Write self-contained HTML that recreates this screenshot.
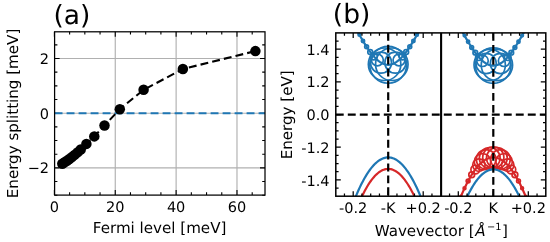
<!DOCTYPE html>
<html lang="en"><head><meta charset="utf-8"><title>Figure</title>
<style>html,body{margin:0;padding:0;background:#fff}body{width:550px;height:242px;overflow:hidden}svg text{fill:#000;text-rendering:geometricPrecision}</style></head>
<body>
<svg width="550" height="242" viewBox="0 0 550 242" font-family="DejaVu Sans, Liberation Sans, sans-serif" style="display:block">
<rect width="550" height="242" fill="#fff"/>
<g id="panel-a">
<line x1="115.26" x2="115.26" y1="31.8" y2="195.1" stroke="#b0b0b0" stroke-width="1.15"/>
<line x1="176.12" x2="176.12" y1="31.8" y2="195.1" stroke="#b0b0b0" stroke-width="1.15"/>
<line x1="236.98" x2="236.98" y1="31.8" y2="195.1" stroke="#b0b0b0" stroke-width="1.15"/>
<line x1="54.6" x2="265.0" y1="167.9" y2="167.9" stroke="#b0b0b0" stroke-width="1.15"/>
<line x1="54.6" x2="265.0" y1="113.2" y2="113.2" stroke="#b0b0b0" stroke-width="1.15"/>
<line x1="54.6" x2="265.0" y1="58.5" y2="58.5" stroke="#b0b0b0" stroke-width="1.15"/>
<path d="M54.4 195.1v-5.0M54.4 31.8v5.0M69.61 195.1v-2.8M69.61 31.8v2.8M84.83 195.1v-2.8M84.83 31.8v2.8M100.05 195.1v-2.8M100.05 31.8v2.8M115.26 195.1v-5.0M115.26 31.8v5.0M130.47 195.1v-2.8M130.47 31.8v2.8M145.69 195.1v-2.8M145.69 31.8v2.8M160.91 195.1v-2.8M160.91 31.8v2.8M176.12 195.1v-5.0M176.12 31.8v5.0M191.34 195.1v-2.8M191.34 31.8v2.8M206.55 195.1v-2.8M206.55 31.8v2.8M221.77 195.1v-2.8M221.77 31.8v2.8M236.98 195.1v-5.0M236.98 31.8v5.0M252.2 195.1v-2.8M252.2 31.8v2.8M54.6 195.25h2.8M265.0 195.25h-2.8M54.6 181.57h2.8M265.0 181.57h-2.8M54.6 167.9h5.0M265.0 167.9h-5.0M54.6 154.23h2.8M265.0 154.23h-2.8M54.6 140.55h2.8M265.0 140.55h-2.8M54.6 126.88h2.8M265.0 126.88h-2.8M54.6 113.2h5.0M265.0 113.2h-5.0M54.6 99.53h2.8M265.0 99.53h-2.8M54.6 85.85h2.8M265.0 85.85h-2.8M54.6 72.17h2.8M265.0 72.17h-2.8M54.6 58.5h5.0M265.0 58.5h-5.0M54.6 44.83h2.8M265.0 44.83h-2.8" stroke="#000" stroke-width="1.1" fill="none"/>
<line x1="54.6" x2="265.0" y1="113.2" y2="113.2" stroke="#1f77b4" stroke-width="2.1" stroke-dasharray="7.9 4.1"/>
<clipPath id="ca"><rect x="54.6" y="31.8" width="210.4" height="163.3"/></clipPath>
<g clip-path="url(#ca)">
<polyline fill="none" stroke="#000" stroke-width="2.1" stroke-dasharray="7.9 4.1" stroke-dashoffset="-4.8" points="62.3,163.7 64.6,162.3 67,160.7 69.4,159 71.9,157.1 74.6,154.9 77.5,152.4 80.7,149.5 86.4,143.9 94.3,136.4 104.5,125.5 119.8,109.2 143.6,89.8 182.9,69 255.4,51.1"/>
<circle cx="62.3" cy="163.7" r="5.25" fill="#000"/>
<circle cx="64.6" cy="162.3" r="5.25" fill="#000"/>
<circle cx="67" cy="160.7" r="5.25" fill="#000"/>
<circle cx="69.4" cy="159" r="5.25" fill="#000"/>
<circle cx="71.9" cy="157.1" r="5.25" fill="#000"/>
<circle cx="74.6" cy="154.9" r="5.25" fill="#000"/>
<circle cx="77.5" cy="152.4" r="5.25" fill="#000"/>
<circle cx="80.7" cy="149.5" r="5.25" fill="#000"/>
<circle cx="86.4" cy="143.9" r="5.25" fill="#000"/>
<circle cx="94.3" cy="136.4" r="5.25" fill="#000"/>
<circle cx="104.5" cy="125.5" r="5.25" fill="#000"/>
<circle cx="119.8" cy="109.2" r="5.25" fill="#000"/>
<circle cx="143.6" cy="89.8" r="5.25" fill="#000"/>
<circle cx="182.9" cy="69" r="5.25" fill="#000"/>
<circle cx="255.4" cy="51.1" r="5.25" fill="#000"/>
</g>
<rect x="54.6" y="31.8" width="210.4" height="163.3" fill="none" stroke="#000" stroke-width="1.25"/>
<text x="53.4" y="24" font-size="26.5">(a)</text>
<text x="49.0" y="173" font-size="14.5" text-anchor="end">−2</text>
<text x="49.0" y="119" font-size="14.5" text-anchor="end">0</text>
<text x="49.0" y="64" font-size="14.5" text-anchor="end">2</text>
<text x="54.4" y="212" font-size="14.5" text-anchor="middle">0</text>
<text x="115.26" y="212" font-size="14.5" text-anchor="middle">20</text>
<text x="176.12" y="212" font-size="14.5" text-anchor="middle">40</text>
<text x="236.98" y="212" font-size="14.5" text-anchor="middle">60</text>
<text x="159.6" y="233" font-size="15.1" text-anchor="middle">Fermi level [meV]</text>
<text transform="translate(17.8 113.45) rotate(-90)" font-size="15.1" text-anchor="middle">Energy splitting [meV]</text>
</g>
<g id="panel-b">
<clipPath id="cb1"><rect x="335.8" y="32.9" width="105.3" height="163.3"/></clipPath>
<clipPath id="cb2"><rect x="441.1" y="32.9" width="104.7" height="163.3"/></clipPath>
<g clip-path="url(#cb1)">
<g fill="none" stroke="#1f77b4" stroke-width="1.7"><circle cx="355.8" cy="28.54" r="1.05"/><circle cx="359.4" cy="34.82" r="1.34"/><circle cx="363" cy="40.95" r="1.63"/><circle cx="366.6" cy="46.7" r="1.91"/><circle cx="370.2" cy="51.89" r="2.39"/><circle cx="373.8" cy="56.36" r="3.44"/><circle cx="377.4" cy="59.98" r="5.93"/><circle cx="381" cy="62.63" r="10.52"/><circle cx="384.6" cy="64.25" r="16.25"/><circle cx="388.2" cy="64.8" r="18.45"/><circle cx="391.8" cy="64.25" r="16.25"/><circle cx="395.4" cy="62.63" r="10.52"/><circle cx="399" cy="59.98" r="5.93"/><circle cx="402.6" cy="56.36" r="3.44"/><circle cx="406.2" cy="51.89" r="2.39"/><circle cx="409.8" cy="46.7" r="1.91"/><circle cx="413.4" cy="40.95" r="1.63"/><circle cx="417" cy="34.82" r="1.34"/><circle cx="420.6" cy="28.54" r="1.05"/></g>
<polyline fill="none" stroke="#d62728" stroke-width="2.2" points="335.8,278.73 336.8,274.58 337.8,270.51 338.8,266.51 339.8,262.6 340.8,258.77 341.8,255.02 342.8,251.35 343.8,247.75 344.8,244.24 345.8,240.81 346.8,237.46 347.8,234.19 348.8,230.99 349.8,227.88 350.8,224.85 351.8,221.9 352.8,219.03 353.8,216.23 354.8,213.52 355.8,210.89 356.8,208.34 357.8,205.87 358.8,203.47 359.8,201.16 360.8,198.93 361.8,196.78 362.8,194.71 363.8,192.71 364.8,190.8 365.8,188.97 366.8,187.22 367.8,185.55 368.8,183.95 369.8,182.44 370.8,181.01 371.8,179.66 372.8,178.39 373.8,177.19 374.8,176.08 375.8,175.05 376.8,174.1 377.8,173.23 378.8,172.43 379.8,171.72 380.8,171.09 381.8,170.54 382.8,170.07 383.8,169.67 384.8,169.36 385.8,169.13 386.8,168.98 387.8,168.91 388.8,168.91 389.8,169 390.8,169.17 391.8,169.42 392.8,169.75 393.8,170.15 394.8,170.64 395.8,171.21 396.8,171.86 397.8,172.59 398.8,173.39 399.8,174.28 400.8,175.25 401.8,176.3 402.8,177.43 403.8,178.63 404.8,179.92 405.8,181.29 406.8,182.74 407.8,184.27 408.8,185.87 409.8,187.56 410.8,189.33 411.8,191.18 412.8,193.11 413.8,195.11 414.8,197.2 415.8,199.37 416.8,201.62 417.8,203.95 418.8,206.35 419.8,208.84 420.8,211.41 421.8,214.06 422.8,216.79 423.8,219.59 424.8,222.48 425.8,225.45 426.8,228.5 427.8,231.63 428.8,234.83 429.8,238.12 430.8,241.49 431.8,244.94 432.8,248.47 433.8,252.07 434.8,255.76 435.8,259.53 436.8,263.38 437.8,267.31 438.8,271.31 439.8,275.4 440.8,279.57"/>
<polyline fill="none" stroke="#1f77b4" stroke-width="2.2" points="335.8,259.54 336.8,255.68 337.8,251.89 338.8,248.18 339.8,244.54 340.8,240.98 341.8,237.49 342.8,234.08 343.8,230.73 344.8,227.47 345.8,224.28 346.8,221.16 347.8,218.12 348.8,215.15 349.8,212.25 350.8,209.43 351.8,206.69 352.8,204.02 353.8,201.42 354.8,198.9 355.8,196.45 356.8,194.08 357.8,191.78 358.8,189.55 359.8,187.4 360.8,185.33 361.8,183.33 362.8,181.4 363.8,179.55 364.8,177.77 365.8,176.07 366.8,174.44 367.8,172.88 368.8,171.4 369.8,169.99 370.8,168.66 371.8,167.41 372.8,166.22 373.8,165.11 374.8,164.08 375.8,163.12 376.8,162.23 377.8,161.42 378.8,160.69 379.8,160.02 380.8,159.44 381.8,158.92 382.8,158.48 383.8,158.12 384.8,157.83 385.8,157.61 386.8,157.47 387.8,157.41 388.8,157.41 389.8,157.5 390.8,157.65 391.8,157.88 392.8,158.19 393.8,158.57 394.8,159.02 395.8,159.55 396.8,160.15 397.8,160.83 398.8,161.58 399.8,162.41 400.8,163.31 401.8,164.28 402.8,165.33 403.8,166.45 404.8,167.65 405.8,168.92 406.8,170.27 407.8,171.69 408.8,173.19 409.8,174.76 410.8,176.4 411.8,178.12 412.8,179.91 413.8,181.78 414.8,183.72 415.8,185.74 416.8,187.83 417.8,189.99 418.8,192.23 419.8,194.55 420.8,196.93 421.8,199.4 422.8,201.93 423.8,204.55 424.8,207.23 425.8,209.99 426.8,212.83 427.8,215.74 428.8,218.72 429.8,221.78 430.8,224.91 431.8,228.12 432.8,231.4 433.8,234.75 434.8,238.18 435.8,241.69 436.8,245.26 437.8,248.92 438.8,252.65 439.8,256.45 440.8,260.32"/>
<polyline fill="none" stroke="#1f77b4" stroke-width="2.2" points="335.8,3.97 336.8,4.26 337.8,4.71 338.8,5.29 339.8,6 340.8,6.84 341.8,7.78 342.8,8.83 343.8,9.98 344.8,11.21 345.8,12.53 346.8,13.92 347.8,15.37 348.8,16.88 349.8,18.45 350.8,20.05 351.8,21.7 352.8,23.38 353.8,25.08 354.8,26.81 355.8,28.54 356.8,30.29 357.8,32.04 358.8,33.78 359.8,35.51 360.8,37.23 361.8,38.93 362.8,40.61 363.8,42.26 364.8,43.88 365.8,45.46 366.8,47.01 367.8,48.5 368.8,49.95 369.8,51.35 370.8,52.69 371.8,53.98 372.8,55.2 373.8,56.36 374.8,57.46 375.8,58.48 376.8,59.44 377.8,60.32 378.8,61.13 379.8,61.86 380.8,62.51 381.8,63.08 382.8,63.58 383.8,63.99 384.8,64.31 385.8,64.56 386.8,64.72 387.8,64.79 388.8,64.78 389.8,64.69 390.8,64.52 391.8,64.25 392.8,63.91 393.8,63.48 394.8,62.98 395.8,62.39 396.8,61.72 397.8,60.97 398.8,60.15 399.8,59.25 400.8,58.28 401.8,57.24 402.8,56.14 403.8,54.96 404.8,53.73 405.8,52.43 406.8,51.07 407.8,49.67 408.8,48.21 409.8,46.7 410.8,45.15 411.8,43.56 412.8,41.94 413.8,40.28 414.8,38.6 415.8,36.89 416.8,35.17 417.8,33.43 418.8,31.69 419.8,29.94 420.8,28.2 421.8,26.46 422.8,24.74 423.8,23.04 424.8,21.37 425.8,19.73 426.8,18.13 427.8,16.58 428.8,15.07 429.8,13.63 430.8,12.26 431.8,10.96 432.8,9.74 433.8,8.61 434.8,7.58 435.8,6.66 436.8,5.85 437.8,5.16 438.8,4.61 439.8,4.19 440.8,3.92"/>
</g>
<g clip-path="url(#cb2)">
<g fill="none" stroke="#1f77b4" stroke-width="1.7"><circle cx="460.9" cy="29.34" r="1.01"/><circle cx="464.5" cy="35.62" r="1.29"/><circle cx="468.1" cy="41.75" r="1.57"/><circle cx="471.7" cy="47.5" r="1.84"/><circle cx="475.3" cy="52.69" r="2.31"/><circle cx="478.9" cy="57.16" r="3.32"/><circle cx="482.5" cy="60.78" r="5.72"/><circle cx="486.1" cy="63.43" r="10.14"/><circle cx="489.7" cy="65.05" r="15.67"/><circle cx="493.3" cy="65.6" r="17.79"/><circle cx="496.9" cy="65.05" r="15.67"/><circle cx="500.5" cy="63.43" r="10.14"/><circle cx="504.1" cy="60.78" r="5.72"/><circle cx="507.7" cy="57.16" r="3.32"/><circle cx="511.3" cy="52.69" r="2.31"/><circle cx="514.9" cy="47.5" r="1.84"/><circle cx="518.5" cy="41.75" r="1.57"/><circle cx="522.1" cy="35.62" r="1.29"/><circle cx="525.7" cy="29.34" r="1.01"/></g>
<g fill="none" stroke="#d62728" stroke-width="1.7"><circle cx="460.9" cy="196.45" r="1"/><circle cx="464.5" cy="188.26" r="1.4"/><circle cx="468.1" cy="181.02" r="1.9"/><circle cx="471.7" cy="174.76" r="2.9"/><circle cx="475.3" cy="169.45" r="4.4"/><circle cx="478.9" cy="165.11" r="6.2"/><circle cx="482.5" cy="161.74" r="8.2"/><circle cx="486.1" cy="159.33" r="9.8"/><circle cx="489.7" cy="157.88" r="10.4"/><circle cx="493.3" cy="157.4" r="10.6"/><circle cx="496.9" cy="157.88" r="10.4"/><circle cx="500.5" cy="159.33" r="9.8"/><circle cx="504.1" cy="161.74" r="8.2"/><circle cx="507.7" cy="165.11" r="6.2"/><circle cx="511.3" cy="169.45" r="4.4"/><circle cx="514.9" cy="174.76" r="2.9"/><circle cx="518.5" cy="181.02" r="1.9"/><circle cx="522.1" cy="188.26" r="1.4"/><circle cx="525.7" cy="196.45" r="1"/></g>
<polyline fill="none" stroke="#1f77b4" stroke-width="2.2" points="441.1,278.39 442.1,274.26 443.1,270.2 444.1,266.23 445.1,262.33 446.1,258.51 447.1,254.78 448.1,251.12 449.1,247.55 450.1,244.05 451.1,240.63 452.1,237.3 453.1,234.04 454.1,230.87 455.1,227.77 456.1,224.75 457.1,221.82 458.1,218.96 459.1,216.19 460.1,213.49 461.1,210.87 462.1,208.34 463.1,205.88 464.1,203.51 465.1,201.21 466.1,198.99 467.1,196.86 468.1,194.8 469.1,192.83 470.1,190.93 471.1,189.11 472.1,187.38 473.1,185.72 474.1,184.15 475.1,182.65 476.1,181.23 477.1,179.9 478.1,178.64 479.1,177.47 480.1,176.37 481.1,175.35 482.1,174.42 483.1,173.56 484.1,172.79 485.1,172.09 486.1,171.47 487.1,170.94 488.1,170.48 489.1,170.11 490.1,169.81 491.1,169.59 492.1,169.46 493.1,169.4 494.1,169.43 495.1,169.53 496.1,169.71 497.1,169.98 498.1,170.32 499.1,170.75 500.1,171.25 501.1,171.83 502.1,172.5 503.1,173.24 504.1,174.07 505.1,174.97 506.1,175.95 507.1,177.02 508.1,178.16 509.1,179.39 510.1,180.69 511.1,182.07 512.1,183.54 513.1,185.08 514.1,186.71 515.1,188.41 516.1,190.19 517.1,192.06 518.1,194 519.1,196.03 520.1,198.13 521.1,200.31 522.1,202.58 523.1,204.92 524.1,207.35 525.1,209.85 526.1,212.43 527.1,215.1 528.1,217.84 529.1,220.67 530.1,223.57 531.1,226.55 532.1,229.62 533.1,232.76 534.1,235.99 535.1,239.29 536.1,242.67 537.1,246.14 538.1,249.68 539.1,253.31 540.1,257.01 541.1,260.79 542.1,264.66 543.1,268.6 544.1,272.63 545.1,276.73"/>
<polyline fill="none" stroke="#d62728" stroke-width="2.2" points="441.1,258.76 442.1,254.92 443.1,251.15 444.1,247.45 445.1,243.82 446.1,240.28 447.1,236.8 448.1,233.4 449.1,230.08 450.1,226.82 451.1,223.65 452.1,220.54 453.1,217.52 454.1,214.56 455.1,211.68 456.1,208.88 457.1,206.15 458.1,203.49 459.1,200.91 460.1,198.4 461.1,195.97 462.1,193.61 463.1,191.33 464.1,189.12 465.1,186.98 466.1,184.92 467.1,182.94 468.1,181.02 469.1,179.19 470.1,177.42 471.1,175.73 472.1,174.12 473.1,172.58 474.1,171.11 475.1,169.72 476.1,168.41 477.1,167.16 478.1,165.99 479.1,164.9 480.1,163.88 481.1,162.94 482.1,162.07 483.1,161.27 484.1,160.55 485.1,159.9 486.1,159.33 487.1,158.83 488.1,158.41 489.1,158.06 490.1,157.78 491.1,157.58 492.1,157.45 493.1,157.4 494.1,157.42 495.1,157.52 496.1,157.69 497.1,157.94 498.1,158.26 499.1,158.65 500.1,159.12 501.1,159.66 502.1,160.28 503.1,160.97 504.1,161.74 505.1,162.58 506.1,163.49 507.1,164.48 508.1,165.55 509.1,166.69 510.1,167.9 511.1,169.19 512.1,170.55 513.1,171.98 514.1,173.49 515.1,175.08 516.1,176.74 517.1,178.47 518.1,180.28 519.1,182.16 520.1,184.12 521.1,186.15 522.1,188.26 523.1,190.44 524.1,192.69 525.1,195.02 526.1,197.42 527.1,199.9 528.1,202.45 529.1,205.08 530.1,207.78 531.1,210.55 532.1,213.4 533.1,216.33 534.1,219.32 535.1,222.4 536.1,225.54 537.1,228.77 538.1,232.06 539.1,235.43 540.1,238.88 541.1,242.4 542.1,245.99 543.1,249.66 544.1,253.4 545.1,257.22"/>
<polyline fill="none" stroke="#1f77b4" stroke-width="2.2" points="441.1,4.81 442.1,5.14 443.1,5.61 444.1,6.22 445.1,6.96 446.1,7.82 447.1,8.78 448.1,9.85 449.1,11.02 450.1,12.27 451.1,13.6 452.1,15 453.1,16.47 454.1,17.99 455.1,19.56 456.1,21.18 457.1,22.84 458.1,24.52 459.1,26.23 460.1,27.95 461.1,29.69 462.1,31.44 463.1,33.18 464.1,34.93 465.1,36.66 466.1,38.37 467.1,40.07 468.1,41.75 469.1,43.39 470.1,45 471.1,46.58 472.1,48.11 473.1,49.6 474.1,51.04 475.1,52.42 476.1,53.75 477.1,55.03 478.1,56.24 479.1,57.39 480.1,58.47 481.1,59.48 482.1,60.42 483.1,61.29 484.1,62.08 485.1,62.8 486.1,63.43 487.1,63.99 488.1,64.46 489.1,64.86 490.1,65.17 491.1,65.4 492.1,65.54 493.1,65.6 494.1,65.57 495.1,65.46 496.1,65.27 497.1,64.99 498.1,64.63 499.1,64.19 500.1,63.66 501.1,63.06 502.1,62.38 503.1,61.61 504.1,60.78 505.1,59.87 506.1,58.88 507.1,57.83 508.1,56.71 509.1,55.52 510.1,54.27 511.1,52.96 512.1,51.6 513.1,50.18 514.1,48.71 515.1,47.19 516.1,45.64 517.1,44.04 518.1,42.41 519.1,40.74 520.1,39.06 521.1,37.35 522.1,35.62 523.1,33.88 524.1,32.14 525.1,30.39 526.1,28.65 527.1,26.92 528.1,25.2 529.1,23.51 530.1,21.84 531.1,20.21 532.1,18.61 533.1,17.07 534.1,15.58 535.1,14.15 536.1,12.79 537.1,11.51 538.1,10.31 539.1,9.2 540.1,8.19 541.1,7.29 542.1,6.5 543.1,5.84 544.1,5.31 545.1,4.93"/>
</g>
<line x1="335.8" x2="545.8" y1="114.55" y2="114.55" stroke="#000" stroke-width="2.2" stroke-dasharray="7.9 4.1"/>
<line x1="388.2" x2="388.2" y1="32.9" y2="196.2" stroke="#000" stroke-width="2.2" stroke-dasharray="7.85 4.03"/>
<line x1="493.3" x2="493.3" y1="32.9" y2="196.2" stroke="#000" stroke-width="2.2" stroke-dasharray="7.9 4.1"/>
<path d="M344.45 196.2v-2.8M344.45 32.9v2.8M353.2 196.2v-5.0M353.2 32.9v5.0M361.95 196.2v-2.8M361.95 32.9v2.8M370.7 196.2v-2.8M370.7 32.9v2.8M379.45 196.2v-2.8M379.45 32.9v2.8M388.2 196.2v-5.0M388.2 32.9v5.0M396.95 196.2v-2.8M396.95 32.9v2.8M405.7 196.2v-2.8M405.7 32.9v2.8M414.45 196.2v-2.8M414.45 32.9v2.8M423.2 196.2v-5.0M423.2 32.9v5.0M431.95 196.2v-2.8M431.95 32.9v2.8M449.55 196.2v-2.8M449.55 32.9v2.8M458.3 196.2v-5.0M458.3 32.9v5.0M467.05 196.2v-2.8M467.05 32.9v2.8M475.8 196.2v-2.8M475.8 32.9v2.8M484.55 196.2v-2.8M484.55 32.9v2.8M493.3 196.2v-5.0M493.3 32.9v5.0M502.05 196.2v-2.8M502.05 32.9v2.8M510.8 196.2v-2.8M510.8 32.9v2.8M519.55 196.2v-2.8M519.55 32.9v2.8M528.3 196.2v-5.0M528.3 32.9v5.0M537.05 196.2v-2.8M537.05 32.9v2.8M335.8 41.06h2.8M545.8 41.06h-2.8M335.8 49.23h5.0M545.8 49.23h-5.0M335.8 57.39h2.8M545.8 57.39h-2.8M335.8 65.56h2.8M545.8 65.56h-2.8M335.8 73.72h2.8M545.8 73.72h-2.8M335.8 81.89h5.0M545.8 81.89h-5.0M335.8 90.05h2.8M545.8 90.05h-2.8M335.8 98.22h2.8M545.8 98.22h-2.8M335.8 106.38h2.8M545.8 106.38h-2.8M335.8 114.55h5.0M545.8 114.55h-5.0M335.8 122.72h2.8M545.8 122.72h-2.8M335.8 130.88h2.8M545.8 130.88h-2.8M335.8 139.04h2.8M545.8 139.04h-2.8M335.8 147.21h5.0M545.8 147.21h-5.0M335.8 155.38h2.8M545.8 155.38h-2.8M335.8 163.54h2.8M545.8 163.54h-2.8M335.8 171.7h2.8M545.8 171.7h-2.8M335.8 179.87h5.0M545.8 179.87h-5.0M335.8 188.03h2.8M545.8 188.03h-2.8" stroke="#000" stroke-width="1.25" fill="none"/>
<rect x="335.8" y="32.9" width="210" height="163.3" fill="none" stroke="#000" stroke-width="1.5"/>
<line x1="441.1" x2="441.1" y1="32.9" y2="196.2" stroke="#000" stroke-width="2.1"/>
<text x="332.8" y="23" font-size="26.5">(b)</text>
<text x="329.6" y="55" font-size="14.5" text-anchor="end">1.4</text>
<text x="329.6" y="87" font-size="14.5" text-anchor="end">1.2</text>
<text x="329.6" y="120" font-size="14.5" text-anchor="end">0.0</text>
<text x="329.6" y="153" font-size="14.5" text-anchor="end">-1.2</text>
<text x="329.6" y="186" font-size="14.5" text-anchor="end">-1.4</text>
<text x="353.2" y="213" font-size="14.5" text-anchor="middle">-0.2</text>
<text x="388.2" y="213" font-size="14.5" text-anchor="middle">-K</text>
<text x="423.2" y="213" font-size="14.5" text-anchor="middle">+0.2</text>
<text x="458.3" y="213" font-size="14.5" text-anchor="middle">-0.2</text>
<text x="493.3" y="213" font-size="14.5" text-anchor="middle">K</text>
<text x="528.3" y="213" font-size="14.5" text-anchor="middle">+0.2</text>
<text x="374.7" y="236" font-size="15.1">Wavevector [<tspan dx="0.6" font-style="oblique">Å</tspan><tspan dx="1.4" dy="-5.7" font-size="9.8">−1</tspan><tspan dx="0.5" dy="5.7">]</tspan></text>
<text transform="translate(291.9 114.8) rotate(-90)" font-size="15.1" text-anchor="middle">Energy [eV]</text>
</g>
</svg>
</body></html>
